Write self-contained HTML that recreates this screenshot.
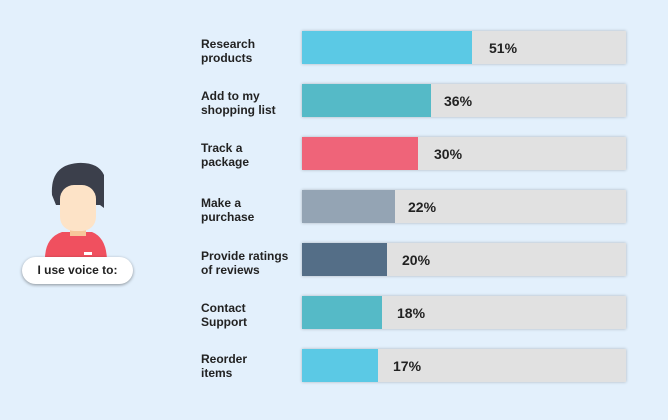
<!DOCTYPE html>
<html><head><style>
body{margin:0;width:668px;height:420px;background:#e3f0fc;position:relative;overflow:hidden;font-family:"Liberation Sans",sans-serif}
.lab{position:absolute;left:201px;font-size:12px;font-weight:bold;color:#222;line-height:14px}
.bar{position:absolute;left:302px;width:324px;height:33px;background:#e1e1e1;box-shadow:0 0 3px rgba(0,0,0,.25)}
.fill{position:absolute;left:0;top:0;height:33px}
.pct{position:absolute;font-size:14px;font-weight:bold;color:#222;top:9px}
</style></head><body>
<svg style="position:absolute;left:0;top:0" width="170" height="300">
<path d="M45 262 Q44 238 62 232 L92 232 Q107 238 107 262 Z" fill="#f0505f"/>
<rect x="70" y="222" width="16" height="14" fill="#f7c79a"/>
<path d="M52 195 Q50 165 78 163 Q98 162 104 175 L104 208 L100 205 L56 205 Z" fill="#3b3f4b"/>
<rect x="60" y="185" width="36" height="46" rx="14" fill="#fde3c7"/>
<rect x="84" y="252" width="8" height="3" fill="#fff"/>
</svg>
<div style="position:absolute;left:22px;top:257px;width:111px;height:27px;background:#fff;border-radius:14px;box-shadow:0 1px 3px rgba(0,0,0,.4);font-size:12px;font-weight:bold;text-align:center;line-height:27px;color:#222">I use voice to:</div>

<div class="lab" style="top:37px">Research<br>products</div>
<div class="bar" style="top:31px"><div class="fill" style="width:170px;background:#5bc9e5"></div><div class="pct" style="left:187px">51%</div></div>
<div class="lab" style="top:89px">Add to my<br>shopping list</div>
<div class="bar" style="top:84px"><div class="fill" style="width:129px;background:#55bac7"></div><div class="pct" style="left:142px">36%</div></div>
<div class="lab" style="top:141px">Track a<br>package</div>
<div class="bar" style="top:137px"><div class="fill" style="width:116px;background:#ef6479"></div><div class="pct" style="left:132px">30%</div></div>
<div class="lab" style="top:196px">Make a<br>purchase</div>
<div class="bar" style="top:190px"><div class="fill" style="width:93px;background:#94a4b4"></div><div class="pct" style="left:106px">22%</div></div>
<div class="lab" style="top:249px">Provide ratings<br>of reviews</div>
<div class="bar" style="top:243px"><div class="fill" style="width:85px;background:#546e87"></div><div class="pct" style="left:100px">20%</div></div>
<div class="lab" style="top:301px">Contact<br>Support</div>
<div class="bar" style="top:296px"><div class="fill" style="width:80px;background:#55bac7"></div><div class="pct" style="left:95px">18%</div></div>
<div class="lab" style="top:352px">Reorder<br>items</div>
<div class="bar" style="top:349px"><div class="fill" style="width:76px;background:#5bc9e5"></div><div class="pct" style="left:91px">17%</div></div>
</body></html>
